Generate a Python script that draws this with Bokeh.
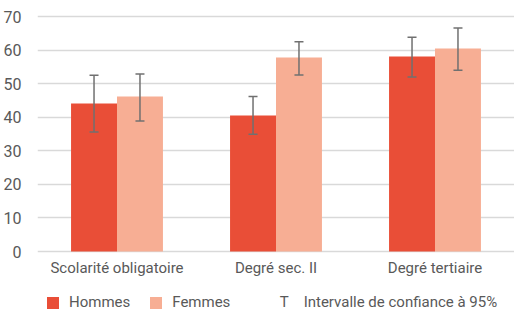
from bokeh.plotting import figure
from bokeh.models import (ColumnDataSource, FactorRange, Range1d, Whisker, TeeHead,
                          Legend, LegendItem, FixedTicker)
from bokeh.core.properties import value
from bokeh.transform import dodge
from bokeh.embed import file_html
from bokeh.resources import INLINE

categories = ["Scolarité obligatoire", "Degré sec. II", "Degré tertiaire"]
hommes = [44.1, 40.5, 58.1]
hommes_low = [35.6, 34.9, 52.0]
hommes_high = [52.5, 46.2, 63.8]
femmes = [46.2, 57.8, 60.5]
femmes_low = [38.9, 52.6, 54.0]
femmes_high = [52.9, 62.5, 66.6]
y_ticks = [0, 10, 20, 30, 40, 50, 60, 70]
series_names = ["Hommes", "Femmes"]
ci_label = "\u00a0\u00a0T\u00a0\u00a0\u00a0\u00a0Intervalle de confiance à 95%"

FONT = "Roboto"
TXT = "#595959"
C_H = "#e94e37"
C_F = "#f7ae94"
WH = "#707070"

src = ColumnDataSource(dict(cat=categories, h=hommes, hl=hommes_low, hh=hommes_high,
                            f=femmes, fl=femmes_low, fh=femmes_high))

p = figure(frame_width=477, frame_height=311, x_range=FactorRange(*categories),
           y_range=Range1d(-17.87, 74.77), x_axis_location=None,
           output_backend="svg", toolbar_location=None,
           min_border_left=37, min_border_right=0, min_border_top=0, min_border_bottom=0)
p.outline_line_color = None

BW = 0.289
OFF = BW / 2
rh = p.vbar(x=dodge("cat", -OFF, range=p.x_range), top="h", width=BW, source=src,
            fill_color=C_H, line_color=None)
rf = p.vbar(x=dodge("cat", OFF, range=p.x_range), top="f", width=BW, source=src,
            fill_color=C_F, line_color=None)
rci = p.vbar(x=[], top=[], width=BW, fill_alpha=0, line_alpha=0)

for base, lo, hi in [(dodge("cat", -OFF, range=p.x_range), "hl", "hh"),
                     (dodge("cat", OFF, range=p.x_range), "fl", "fh")]:
    w = Whisker(base=base, lower=lo, upper=hi, source=src, level="overlay",
                line_color=WH, line_width=1.5,
                upper_head=TeeHead(size=9, line_color=WH, line_width=1.5),
                lower_head=TeeHead(size=9, line_color=WH, line_width=1.5))
    p.add_layout(w)

# category labels under the baseline
p.text(x="cat", y=-5.06, text="cat", source=src, text_font=value(FONT),
       text_font_size="15px", text_color=TXT, text_align="center", text_baseline="middle")

p.ygrid.grid_line_color = "#d9d9d9"
p.ygrid.grid_line_width = 1.5
p.xgrid.grid_line_color = None

p.yaxis.ticker = FixedTicker(ticks=y_ticks)
p.yaxis.axis_line_color = None
p.yaxis.major_tick_line_color = None
p.yaxis.minor_tick_line_color = None
p.yaxis.major_label_text_font = FONT
p.yaxis.major_label_text_font_size = "16px"
p.yaxis.major_label_text_color = TXT
p.yaxis.major_label_standoff = 10

legend = Legend(items=[LegendItem(label=series_names[0], renderers=[rh]),
                       LegendItem(label=series_names[1], renderers=[rf]),
                       LegendItem(label=ci_label, renderers=[rci])],
                orientation="horizontal", location=(8, 0),
                glyph_width=15, glyph_height=15, label_standoff=9, spacing=18,
                padding=0, margin=0, border_line_color=None, background_fill_alpha=0,
                label_text_font=FONT, label_text_font_size="15px", label_text_color=TXT)
p.add_layout(legend)

open("out.html", "w").write(file_html(p, INLINE))
